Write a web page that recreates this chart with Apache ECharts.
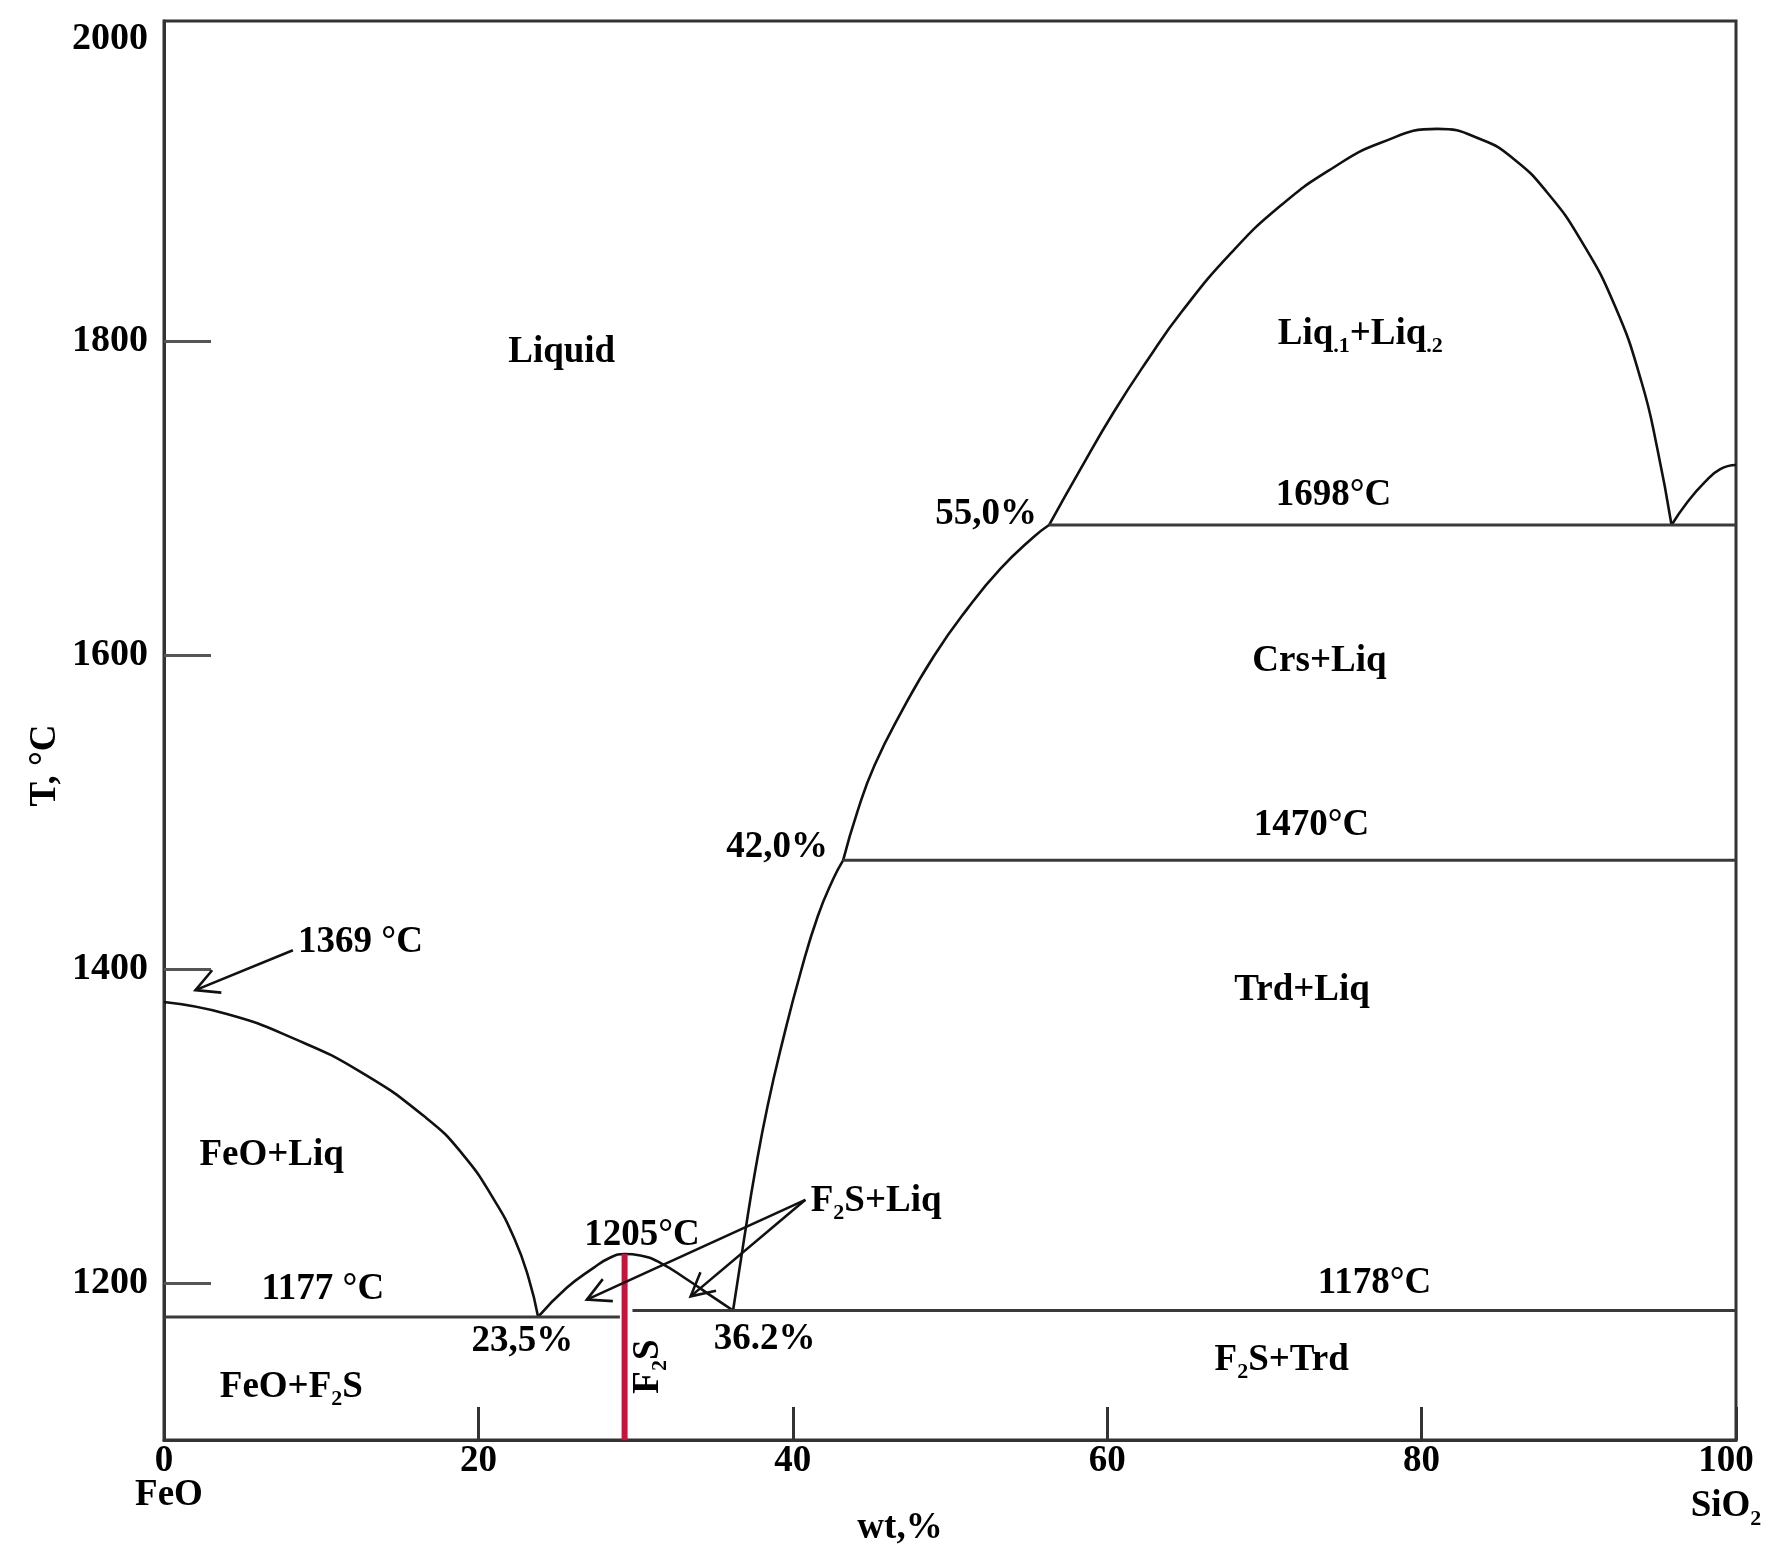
<!DOCTYPE html>
<html><head><meta charset="utf-8">
<script src="https://cdn.jsdelivr.net/npm/echarts@6/dist/echarts.min.js"></script>
<style>html,body{margin:0;padding:0;background:#fff}#c{width:1781px;height:1566px}</style>
</head><body><div id="c"></div>
<script>
// ---- data (wt% SiO2, T °C) ----
const feoLiquidus = [[0,1379],[4.0,1371.4],[8.2,1356],[12.5,1334.5],[16.7,1305],[19.0,1282],[21.0,1253],[22.3,1228],[23.2,1203],[23.8,1178.4]];
const fayaliteLiquidus = [[23.8,1178.4],[25.6,1196.8],[27.3,1209.5],[28.4,1216.3],[29.3,1218.5],[30.3,1217.6],[31.6,1212.7],[33.3,1202.1],[35.0,1190.5],[36.2,1182.5]];
const trdLiquidus = [[36.2,1182.5],[36.9,1228],[37.6,1271],[38.4,1313],[39.4,1356],[40.5,1398],[41.6,1434],[42.6,1458],[43.2,1469.3]];
const crsLiquidus = [[43.2,1469.3],[44.1,1500],[45.2,1529.8],[46.9,1563.7],[49.0,1599.8],[51.1,1629.5],[53.2,1654.9],[55.3,1675.1],[56.3,1682.9]];
const miscibilityGap = [[56.3,1682.9],[58.3,1718.5],[60.4,1754.6],[62.6,1788.5],[64.7,1818.3],[67.9,1856.4],[71.0,1886.1],[74.2,1909.4],[77.4,1926.4],[81.0,1935.3],[83.8,1928.5],[85.9,1915.8],[88.0,1894.6],[90.1,1864.9],[92.3,1822.4],[94.0,1773.7],[95.0,1731.3],[95.9,1682.9]];
const crsSiO2Liquidus = [[95.9,1682.9],[96.9,1697.4],[98.0,1710.1],[99.0,1718.5],[100,1721.1]];
const eutecticLeft = [[0,1178.4],[29.0,1178.4]];
const eutecticRight = [[29.8,1182.5],[100,1182.5]];
const iso1470 = [[43.2,1469.3],[100,1469.3]];
const iso1698 = [[56.3,1682.9],[100,1682.9]];
const fayaliteLine = [[29.3,1100],[29.3,1218.5]];
// arrows: [fromX, fromT, toX, toT]
const arrows = [[8.2,1412,2.0,1386.6],[40.8,1253,26.9,1189.4],[40.8,1253,33.5,1191.5]];
// region / point labels: [text, x, T]
const labels = [
  ['Liquid',25.3,1793],
  ['Liq{s|.1}+Liq{s|.2}',76.1,1804.4],
  ['1698°C',74.4,1701.6],
  ['55,0%',52.3,1689.9],
  ['Crs+Liq',73.5,1596],
  ['1470°C',73.0,1491.4],
  ['42,0%',39.0,1477.2],
  ['Trd+Liq',72.4,1386.7],
  ['1369 °C',12.5,1417],
  ['FeO+Liq',6.85,1281.6],
  ['1177 °C',10.1,1196.2],
  ['23,5%',22.8,1162.7],
  ['1205°C',30.4,1230.4],
  ['F{s|2}S+Liq',45.3,1252],
  ['36.2%',38.2,1163.9],
  ['1178°C',77.0,1199.6],
  ['F{s|2}S+Trd',71.1,1151],
  ['FeO+F{s|2}S',8.1,1133.8]
];
const verticalLabels = [['F{s|2}S',30.8,1146.8]];
const yTicks = [1200,1400,1600,1800];
const yLabels = [1200,1400,1600,1800,2000];

// ---- chart ----
const FONT = 'Liberation Serif';
const INK = '#000';
const subStyle = {fontFamily:FONT,fontWeight:'bold',fontSize:22,lineHeight:22,padding:[24,0,0,0],color:INK};
const chart = echarts.init(document.getElementById('c'));

function curve(d){
  return {type:'line',data:d,showSymbol:false,smooth:0.5,silent:true,
    lineStyle:{color:'#111',width:2.6},z:3};
}
function hline(d){
  return {type:'line',data:d,showSymbol:false,silent:true,
    lineStyle:{color:'#3a3a3a',width:3},z:3};
}
function renderArrow(params, api){
  const p0 = api.coord([api.value(0), api.value(1)]);
  const p1 = api.coord([api.value(2), api.value(3)]);
  const ang = Math.atan2(p0[1]-p1[1], p0[0]-p1[0]);
  const L = 26, a = Math.PI/6.5;
  const w1 = [p1[0]+L*Math.cos(ang+a), p1[1]+L*Math.sin(ang+a)];
  const w2 = [p1[0]+L*Math.cos(ang-a), p1[1]+L*Math.sin(ang-a)];
  return {type:'group',children:[
    {type:'line',shape:{x1:p0[0],y1:p0[1],x2:p1[0],y2:p1[1]},style:{stroke:'#111',lineWidth:2.6}},
    {type:'polyline',shape:{points:[w1,p1,w2]},style:{stroke:'#111',lineWidth:2.6,fill:null}}
  ]};
}
const labelBase = {show:true,position:'inside',formatter:p=>p.name,fontFamily:FONT,fontWeight:'bold',
  fontSize:37,lineHeight:40,color:INK,textBorderWidth:0,opacity:1,rich:{s:subStyle}};

chart.setOption({
  animation:false,
  backgroundColor:'#fff',
  grid:{left:164,right:45,top:21,bottom:126,outerBoundsMode:'none',containLabel:false,
    show:true,borderColor:'#333',borderWidth:3,backgroundColor:'transparent'},
  xAxis:{type:'value',min:0,max:100,interval:20,
    name:'wt,%',nameLocation:'middle',nameGap:70,nameMoveOverlap:false,
    nameTextStyle:{fontFamily:FONT,fontWeight:'bold',fontSize:37,color:INK,padding:[0,100,0,0]},
    axisLine:{lineStyle:{color:'#333',width:3}},
    axisTick:{inside:true,length:33,lineStyle:{color:'#333',width:3}},
    splitLine:{show:false},
    axisLabel:{margin:4,fontFamily:FONT,fontWeight:'bold',fontSize:37,color:INK,
      formatter:v=> v===0 ? '{n|0}\n{a|FeO}' : (v===100 ? '{m|100}\n{b|SiO}{c|2}' : '{n|'+v+'}'),
      rich:{
        n:{fontFamily:FONT,fontWeight:'bold',fontSize:37,lineHeight:34,color:INK},
        m:{fontFamily:FONT,fontWeight:'bold',fontSize:37,lineHeight:34,padding:[0,20,0,0],color:INK},
        a:{fontFamily:FONT,fontWeight:'bold',fontSize:37,lineHeight:34,padding:[0,0,0,10],color:INK},
        b:{fontFamily:FONT,fontWeight:'bold',fontSize:37,lineHeight:56,color:INK},
        c:{fontFamily:FONT,fontWeight:'bold',fontSize:22,lineHeight:22,padding:[26,20,0,0],color:INK}
      }}
  },
  yAxis:{type:'value',min:1100,max:2004,
    name:'T, °C',nameLocation:'middle',nameRotate:90,nameGap:100,nameMoveOverlap:false,
    nameTextStyle:{fontFamily:FONT,fontWeight:'bold',fontSize:37,color:INK,padding:[0,70,0,0]},
    axisLine:{lineStyle:{color:'#333',width:3}},
    axisTick:{inside:true,length:47,customValues:yTicks,lineStyle:{color:'#555',width:3}},
    splitLine:{show:false},
    axisLabel:{margin:16,customValues:yLabels,fontFamily:FONT,fontWeight:'bold',fontSize:38,color:INK,
      formatter:v=> v===2000 ? '{t|2000}' : String(v),
      rich:{t:{fontFamily:FONT,fontWeight:'bold',fontSize:38,padding:[24,0,0,0],color:INK}}}
  },
  series:[
    curve(feoLiquidus),
    curve(fayaliteLiquidus),
    curve(trdLiquidus),
    curve(crsLiquidus),
    curve(miscibilityGap),
    curve(crsSiO2Liquidus),
    hline(eutecticLeft),
    hline(eutecticRight),
    hline(iso1470),
    hline(iso1698),
    {type:'line',data:fayaliteLine,showSymbol:false,silent:true,lineStyle:{color:'#c8143c',width:6},z:4},
    {type:'custom',renderItem:renderArrow,data:arrows,encode:{x:[0,2],y:[1,3]},clip:false,silent:true,z:5},
    {type:'scatter',symbolSize:1,itemStyle:{color:'transparent',opacity:1},silent:true,z:6,
      data:labels.map(l=>({name:l[0],value:[l[1],l[2]]})),label:labelBase},
    {type:'scatter',symbolSize:1,itemStyle:{color:'transparent',opacity:1},silent:true,z:6,
      data:verticalLabels.map(l=>({name:l[0],value:[l[1],l[2]]})),label:Object.assign({},labelBase,{rotate:90})}
  ]
});
</script></body></html>
